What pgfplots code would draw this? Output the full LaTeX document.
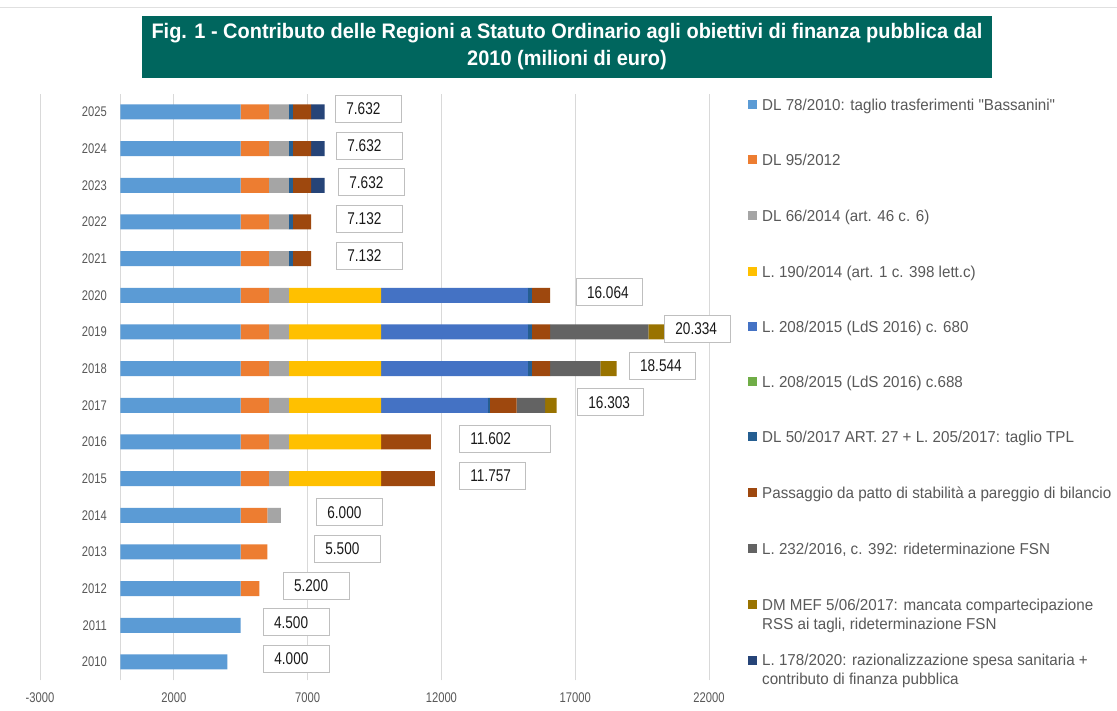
\documentclass[border=0pt]{standalone}
\usepackage{fontspec}
\setmainfont{Liberation Sans}[FakeStretch=0.8]
\newfontfamily\legfont{Liberation Sans}[FakeStretch=0.96]
\newfontfamily\titfont{Liberation Sans}[FakeStretch=0.95]
\usepackage{pgfplots}
\usepackage{pgfplotstable}
\pgfplotsset{compat=1.18}
\definecolor{cA}{HTML}{5B9BD5}
\definecolor{cB}{HTML}{ED7D31}
\definecolor{cC}{HTML}{A5A5A5}
\definecolor{cD}{HTML}{FFC000}
\definecolor{cE}{HTML}{4472C4}
\definecolor{cF}{HTML}{70AD47}
\definecolor{cG}{HTML}{255E91}
\definecolor{cH}{HTML}{9E480E}
\definecolor{cI}{HTML}{636363}
\definecolor{cJ}{HTML}{997300}
\definecolor{cK}{HTML}{264478}
\definecolor{teal}{HTML}{00665E}
\definecolor{txt}{HTML}{595959}
\definecolor{grd}{HTML}{D9D9D9}

\pgfplotstableread{
year a b c d e f g h i j k
2010 4000 0 0 0 0 0 0 0 0 0 0
2011 4500 0 0 0 0 0 0 0 0 0 0
2012 4500 700 0 0 0 0 0 0 0 0 0
2013 4500 1000 0 0 0 0 0 0 0 0 0
2014 4500 1000 500 0 0 0 0 0 0 0 0
2015 4500 1050 750 3452 0 0 0 2005 0 0 0
2016 4500 1050 750 3452 0 0 0 1850 0 0 0
2017 4500 1050 750 3452 3980 0 75 1005 1068 423 0
2018 4500 1050 750 3452 5480 0 150 682 1876 604 0
2019 4500 1050 750 3452 5480 0 150 682 3666 604 0
2020 4500 1050 750 3452 5480 0 150 682 0 0 0
2021 4500 1050 750 0 0 0 150 682 0 0 0
2022 4500 1050 750 0 0 0 150 682 0 0 0
2023 4500 1050 750 0 0 0 150 682 0 0 500
2024 4500 1050 750 0 0 0 150 682 0 0 500
2025 4500 1050 750 0 0 0 150 682 0 0 500
}\datatable

\pgfplotstableread{
year xl tw label
2010 5333 44 4.000
2011 5321 44 4.500
2012 6069 44 5.200
2013 7238 44 5.500
2014 7313 44 6.000
2015 12657 44 11.757
2016 12657 69 11.602
2017 17067 44 16.303
2018 18999 44 18.544
2019 20318 44 20.334
2020 17018 44 16.064
2021 8061 44 7.132
2022 8061 44 7.132
2023 8135 44 7.632
2024 8061 44 7.632
2025 8023 44 7.632
}\labeltable

\pgfplotsset{
  commonaxis/.style={
    scale only axis,
    at={(40pt,29.7pt)}, anchor=south west,
    width=669pt, height=586.7pt,
    xmin=-3000, xmax=22000,
    ymin=2009.5, ymax=2025.5,
    clip=false,
  }
}

\begin{document}
\begin{tikzpicture}
\useasboundingbox (0,0) rectangle (1117pt,710pt);
\fill[white] (0,0) rectangle (1117pt,710pt);
\draw[black!12, line width=0.8pt] (0,703pt) -- (1117pt,703pt);

\begin{axis}[
  commonaxis,
  xbar stacked,
  bar width=15pt,
  axis line style={draw=none},
  major tick length=0pt,
  xtick={-3000,2000,7000,12000,17000,22000},
  xticklabels={-3000,2000,7000,12000,17000,22000},
  xmajorgrids,
  major grid style={draw=grd, line width=0.8pt},
  extra x ticks={0},
  extra x tick labels={},
  extra x tick style={grid=major, major grid style={draw=grd, line width=0.9pt}},
  ytick={2010,2011,2012,2013,2014,2015,2016,2017,2018,2019,2020,2021,2022,2023,2024,2025},
  yticklabels={2010,2011,2012,2013,2014,2015,2016,2017,2018,2019,2020,2021,2022,2023,2024,2025},
  xticklabel style={anchor=center, yshift=-17.7pt, inner sep=0pt, font=\fontsize{14}{14}\selectfont, text=txt},
  yticklabel style={anchor=east, inner sep=0pt, xshift=67pt, font=\fontsize{14}{14}\selectfont, text=txt},
]
\addplot[fill=cA, draw=none] table[x=a, y=year] \datatable;
\addplot[fill=cB, draw=none] table[x=b, y=year] \datatable;
\addplot[fill=cC, draw=none] table[x=c, y=year] \datatable;
\addplot[fill=cD, draw=none] table[x=d, y=year] \datatable;
\addplot[fill=cE, draw=none] table[x=e, y=year] \datatable;
\addplot[fill=cF, draw=none] table[x=f, y=year] \datatable;
\addplot[fill=cG, draw=none] table[x=g, y=year] \datatable;
\addplot[fill=cH, draw=none] table[x=h, y=year] \datatable;
\addplot[fill=cI, draw=none] table[x=i, y=year] \datatable;
\addplot[fill=cJ, draw=none] table[x=j, y=year] \datatable;
\addplot[fill=cK, draw=none] table[x=k, y=year] \datatable;
\end{axis}

\begin{axis}[
  commonaxis,
  hide axis,
]
\addplot[only marks, mark=none,
  visualization depends on={\thisrow{tw} \as \tw},
  nodes near coords,
  point meta=explicit symbolic,
  nodes near coords align=horizontal,
  every node near coord/.append style={anchor=west, draw=black!25, fill=white,
     line width=0.8pt, inner xsep=11pt, inner ysep=0pt, minimum height=27pt,
     text width=\tw pt, align=left, yshift=3pt, xshift=0pt,
     font=\fontsize{17}{17}\selectfont, text=black!90}]
  table[x=xl, y=year, meta=label] \labeltable;
\end{axis}

% title
\node[fill=teal, text=white, minimum width=850pt, minimum height=62pt, inner sep=0pt,
  align=center, font=\titfont\bfseries\fontsize{21}{27}\selectfont] at (567pt,663pt)
  {Fig. 1 - Contributo delle Regioni a Statuto Ordinario agli obiettivi di finanza pubblica dal\\2010 (milioni di euro)};

% legend
\begin{scope}[every node/.style={anchor=base west, inner sep=0pt, text=txt, font=\legfont\fontsize{15.8}{15.8}\selectfont}]
\def\sq#1#2{\fill[#1] (748pt,{710pt-#2pt-4.5pt}) rectangle (757pt,{710pt-#2pt+4.5pt});}
\sq{cA}{105}\node at (762pt,{710pt-105pt-5.65pt}) {DL 78/2010: taglio trasferimenti "Bassanini"};
\sq{cB}{160}\node at (762pt,{710pt-160pt-5.65pt}) {DL 95/2012};
\sq{cC}{216}\node at (762pt,{710pt-216pt-5.65pt}) {DL 66/2014 (art. 46 c. 6)};
\sq{cD}{271.5}\node at (762pt,{710pt-271.5pt-5.65pt}) {L. 190/2014 (art. 1 c. 398 lett.c)};
\sq{cE}{326.5}\node at (762pt,{710pt-326.5pt-5.65pt}) {L. 208/2015 (LdS 2016) c. 680};
\sq{cF}{381.5}\node at (762pt,{710pt-381.5pt-5.65pt}) {L. 208/2015 (LdS 2016) c.688};
\sq{cG}{437}\node at (762pt,{710pt-437pt-5.65pt}) {DL 50/2017 ART. 27 + L. 205/2017: taglio TPL};
\sq{cH}{493}\node at (762pt,{710pt-493pt-5.65pt}) {Passaggio da patto di stabilità a pareggio di bilancio};
\sq{cI}{549}\node at (762pt,{710pt-549pt-5.65pt}) {L. 232/2016, c. 392: rideterminazione FSN};
\sq{cJ}{605}\node at (762pt,{710pt-605pt-5.65pt}) {DM MEF 5/06/2017: mancata compartecipazione};
\node at (762pt,{710pt-623.5pt-5.65pt}) {RSS ai tagli, rideterminazione FSN};
\sq{cK}{660}\node at (762pt,{710pt-660pt-5.65pt}) {L. 178/2020: razionalizzazione spesa sanitaria +};
\node at (762pt,{710pt-678.5pt-5.65pt}) {contributo di finanza pubblica};
\end{scope}
\end{tikzpicture}
\end{document}
